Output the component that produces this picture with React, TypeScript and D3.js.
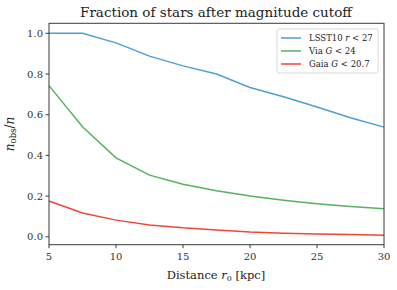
import React from 'react'
import * as d3 from 'd3'

const distances = [5, 7.5, 10, 12.5, 15, 17.5, 20, 22.5, 25, 27.5, 30]
const lsst = [1.0, 1.0, 0.953, 0.888, 0.84, 0.8, 0.734, 0.688, 0.638, 0.585, 0.539]
const via = [0.743, 0.541, 0.388, 0.303, 0.258, 0.226, 0.2, 0.18, 0.162, 0.149, 0.138]
const gaia = [0.176, 0.117, 0.082, 0.058, 0.044, 0.034, 0.024, 0.018, 0.014, 0.011, 0.008]
const xTicks = [5, 10, 15, 20, 25, 30]
const yTicks = [0, 0.2, 0.4, 0.6, 0.8, 1.0]

const series = [
  { name: 'LSST10', v: 'r', cut: '27', values: lsst, color: '#4d9fd4' },
  { name: 'Via', v: 'G', cut: '24', values: via, color: '#55b260' },
  { name: 'Gaia', v: 'G', cut: '20.7', values: gaia, color: '#ef4636' },
]

const font = "'DejaVu Serif', serif"

const App = () => {
  const width = 397
  const height = 290
  const m = { left: 49, right: 13, top: 23.3, bottom: 45.3 }

  const x = d3.scaleLinear().domain([5, 30]).range([m.left, width - m.right])
  const y = d3.scaleLinear().domain([-0.0388, 1.0492]).range([height - m.bottom, m.top])

  const line = d3.line<number>()
    .x((_, i) => x(distances[i]))
    .y(d => y(d))

  const axisColor = '#3a3a3a'

  return (
    <svg width={width} height={height} style={{ position: 'absolute', left: 0, top: 0, background: '#fff' }}>
      <text x={216} y={17} textAnchor="middle" fontFamily={font} fontSize={13.5} fill="#222">
        Fraction of stars after magnitude cutoff
      </text>

      {series.map(s => (
        <path key={s.name} d={line(s.values) || ''} fill="none" stroke={s.color} strokeWidth={1.5} />
      ))}

      <rect x={m.left} y={m.top} width={width - m.left - m.right} height={height - m.top - m.bottom}
        fill="none" stroke={axisColor} strokeWidth={1} />

      {xTicks.map(t => (
        <g key={t}>
          <line x1={x(t)} x2={x(t)} y1={height - m.bottom} y2={height - m.bottom + 3.5} stroke={axisColor} />
          <text x={x(t)} y={height - m.bottom + 15} textAnchor="middle" fontFamily={font} fontSize={10} fill="#333">{t}</text>
        </g>
      ))}
      {yTicks.map(t => (
        <g key={t}>
          <line x1={m.left - 3.5} x2={m.left} y1={y(t)} y2={y(t)} stroke={axisColor} />
          <text x={m.left - 6} y={y(t) + 3.5} textAnchor="end" fontFamily={font} fontSize={10} fill="#333">{t.toFixed(1)}</text>
        </g>
      ))}

      <text x={216} y={279} textAnchor="middle" fontFamily={font} fontSize={11.5} fill="#222">
        Distance <tspan fontStyle="italic">r</tspan><tspan fontSize={8} dy={2}>0</tspan><tspan dy={-2}> [kpc]</tspan>
      </text>

      <text transform={`translate(14,${(m.top + height - m.bottom) / 2}) rotate(-90)`} textAnchor="middle"
        fontFamily={font} fontSize={12} fill="#222">
        <tspan fontStyle="italic">n</tspan><tspan fontSize={8.5} dy={2}>obs</tspan><tspan dy={-2}>/</tspan><tspan fontStyle="italic">n</tspan>
      </text>

      <g transform="translate(277,29)">
        <rect x={0} y={0} width={101} height={44} rx={2} fill="#fff" fillOpacity={0.8} stroke="#d8d8d8" />
        {series.map((s, i) => (
          <g key={s.name} transform={`translate(0,${9 + i * 13})`}>
            <line x1={4} x2={24} y1={0} y2={0} stroke={s.color} strokeWidth={1.5} />
            <text x={32} y={3} fontFamily={font} fontSize={8.5} fill="#222">
              {s.name} <tspan fontStyle="italic">{s.v}</tspan> &lt; {s.cut}
            </text>
          </g>
        ))}
      </g>
    </svg>
  )
}

export default App
